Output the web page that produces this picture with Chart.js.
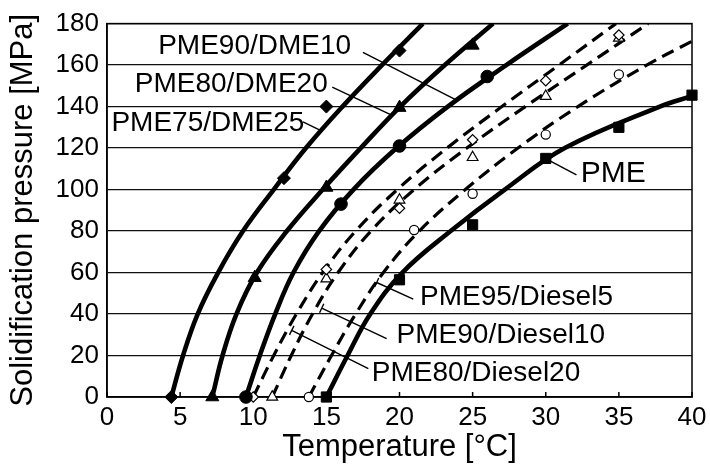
<!DOCTYPE html>
<html lang="en">
<head>
<meta charset="UTF-8">
<title>Solidification pressure of PME blends</title>
<script src="https://cdn.jsdelivr.net/npm/chart.js"></script>
<style>
  body { margin: 0; background: #fff; }
  #chart { display: block; }
</style>
</head>
<body>
<canvas id="chart" width="710" height="468"></canvas>
<script>
// pressure levels (MPa) the fitted curves are sampled at
const levels = [0, 20, 40, 60, 80, 100, 120, 140, 160, 180];

// fitted curves: temperature (degC) at each pressure level
const dme25Fit = [4.4, 5.2, 6.2, 7.6, 9.3, 11.4, 13.6, 16.1, 18.8, 21.6];
const dme20Fit = [7.2, 7.9, 8.85, 10.25, 12.3, 14.75, 17.35, 20.05, 23.1, 26.4];
const dme10Fit = [9.5, 10.45, 11.5, 12.75, 14.5, 16.85, 19.8, 23.3, 27.3, 31.5];
const diesel20Fit = [10.0, 11.4, 12.95, 14.75, 17.0, 19.85, 23.25, 27.0, 30.9, 34.8];
const diesel10Fit = [11.3, 12.6, 14.05, 15.8, 18.05, 21.0, 24.6, 28.6, 32.8, 37.0];
// these two run off the right edge before 180 MPa
const diesel5FitT = [13.8, 15.35, 17.0, 18.9, 21.35, 24.5, 28.1, 32.2, 36.9, 40];
const diesel5FitP = [0, 20, 40, 60, 80, 100, 120, 140, 160, 171.5];
const pmeFitT = [15.0, 16.45, 18.0, 20.2, 23.5, 27.2, 31.3, 37.8, 40];
const pmeFitP = [0, 20, 40, 60, 80, 100, 120, 140, 145];

// measured points
const pmeT = [15, 20, 25, 30, 35, 40];
const pmeP = [0, 56.5, 83, 115, 130, 145.5];
const dme25T = [4.4, 12.1, 15, 20];
const dme25P = [0, 105.5, 140, 167];
const dme20T = [7.2, 10.1, 15, 20, 25];
const dme20P = [0, 57.5, 101, 139.5, 169.5];
const dme10T = [9.5, 16, 20, 26];
const dme10P = [0, 93, 121, 154.5];
const diesel20T = [10, 15, 20, 25, 30, 35];
const diesel20P = [0, 61.5, 91, 124, 152.5, 174.5];
const diesel10T = [11.3, 15, 20, 25, 30, 35];
const diesel10P = [0, 57, 95, 115.5, 145, 173];
const diesel5T = [13.8, 21, 25, 30, 35];
const diesel5P = [0, 80.5, 98, 126.5, 155.5];

const FONT = "'Liberation Sans', Arial, sans-serif";
Chart.defaults.font.family = FONT;
Chart.defaults.color = '#000';

const pts = (xs, ys) => xs.map((x, i) => ({ x: x, y: ys[i] }));

function curve(xs, ys, dashed) {
  return {
    data: pts(xs, ys),
    borderColor: '#000',
    borderWidth: dashed ? 3.2 : 4.6,
    borderDash: dashed ? [13, 7] : [],
    pointRadius: 0,
    tension: 0.4,
    order: 2
  };
}

function markers(xs, ys, style, radius, open) {
  return {
    data: pts(xs, ys),
    showLine: false,
    pointStyle: style,
    pointRadius: radius,
    pointBackgroundColor: open ? '#fff' : '#000',
    pointBorderColor: '#000',
    pointBorderWidth: open ? 1.2 : 1,
    clip: false,
    order: 1
  };
}

const datasets = [
  curve(dme25Fit, levels, false),
  curve(dme20Fit, levels, false),
  curve(dme10Fit, levels, false),
  curve(pmeFitT, pmeFitP, false),
  curve(diesel20Fit, levels, true),
  curve(diesel10Fit, levels, true),
  curve(diesel5FitT, diesel5FitP, true),
  markers(dme25T, dme25P, 'rectRot', 6.5, false),
  markers(dme20T, dme20P, 'triangle', 7.5, false),
  markers(dme10T, dme10P, 'circle', 6.3, false),
  markers(pmeT, pmeP, 'rect', 7.2, false),
  markers(diesel20T, diesel20P, 'rectRot', 5.2, true),
  markers(diesel10T, diesel10P, 'triangle', 6.2, true),
  markers(diesel5T, diesel5P, 'circle', 4.6, true)
];

// curve labels: text anchor (left, middle) and leader line, in data units
const notes = [
  { text: 'PME90/DME10', at: [3.5, 169], line: [17.5, 166.1, 23.9, 143.1], size: 28 },
  { text: 'PME80/DME20', at: [1.9, 150.8], line: [15.4, 149.4, 19.5, 135.8], size: 28 },
  { text: 'PME75/DME25', at: [0.3, 132.1], line: [13.4, 132.6, 14.56, 128.6], size: 28 },
  { text: 'PME', at: [32.4, 107.7], line: [30.0, 114.9, 32.1, 107.1], size: 30 },
  { text: 'PME95/Diesel5', at: [21.4, 48.3], line: [18.44, 55.2, 20.94, 47.2], size: 28, tick: true },
  { text: 'PME90/Diesel10', at: [19.8, 29.7], line: [14.68, 42.8, 19.12, 28.1], size: 28, tick: true },
  { text: 'PME80/Diesel20', at: [18.1, 11.5], line: [12.63, 32.1, 17.87, 13.7], size: 28, tick: true }
];

const frameAndNotes = {
  id: 'frameAndNotes',
  beforeDatasetsDraw(chart) {
    const { ctx, chartArea: a, scales: { x } } = chart;
    ctx.save();
    ctx.strokeStyle = '#000';
    ctx.lineWidth = 1.5;
    ctx.strokeRect(a.left, a.top, a.right - a.left, a.bottom - a.top);
    // short inward ticks on the temperature axis
    ctx.beginPath();
    x.ticks.forEach(t => {
      const px = x.getPixelForValue(t.value);
      ctx.moveTo(px, a.bottom);
      ctx.lineTo(px, a.bottom - 5);
    });
    ctx.stroke();
    ctx.restore();
  },
  afterDatasetsDraw(chart) {
    const { ctx, scales: { x, y } } = chart;
    ctx.save();
    ctx.strokeStyle = '#000';
    ctx.fillStyle = '#000';
    ctx.lineWidth = 1.4;
    ctx.textAlign = 'left';
    ctx.textBaseline = 'middle';
    notes.forEach(n => {
      const x1 = x.getPixelForValue(n.line[0]), y1 = y.getPixelForValue(n.line[1]);
      const x2 = x.getPixelForValue(n.line[2]), y2 = y.getPixelForValue(n.line[3]);
      ctx.beginPath();
      ctx.moveTo(x1, y1);
      ctx.lineTo(x2, y2);
      if (n.tick) {
        const len = Math.hypot(x2 - x1, y2 - y1);
        const nx = -(y2 - y1) / len * 5, ny = (x2 - x1) / len * 5;
        ctx.moveTo(x1 - nx, y1 - ny);
        ctx.lineTo(x1 + nx, y1 + ny);
      }
      ctx.stroke();
      ctx.font = n.size + 'px ' + FONT;
      ctx.fillText(n.text, x.getPixelForValue(n.at[0]), y.getPixelForValue(n.at[1]));
    });
    ctx.restore();
  }
};

new Chart(document.getElementById('chart'), {
  type: 'line',
  data: { datasets: datasets },
  options: {
    responsive: false,
    animation: false,
    devicePixelRatio: 1,
    layout: { padding: { top: 21, right: 18, left: 0, bottom: 0 } },
    plugins: { legend: { display: false }, tooltip: { enabled: false } },
    scales: {
      x: {
        type: 'linear', min: 0, max: 40,
        ticks: { stepSize: 5, padding: 0, maxRotation: 0, font: { size: 26, lineHeight: 1 }, color: '#000' },
        grid: { display: false },
        border: { display: true, color: '#000', width: 1.5 },
        title: { display: true, text: 'Temperature [°C]', font: { size: 31 }, color: '#000', padding: { top: 0, bottom: 2 } },
        afterFit: s => { s.height = 71; }
      },
      y: {
        type: 'linear', min: 0, max: 180,
        ticks: { stepSize: 20, padding: 8, font: { size: 26 }, color: '#000' },
        grid: { color: '#111', lineWidth: 1.3, drawTicks: false },
        border: { display: true, color: '#000', width: 1.5 },
        title: { display: true, text: 'Solidification pressure [MPa]', font: { size: 31 }, color: '#000', padding: { top: 5, bottom: 0 } },
        afterFit: s => { s.width = 107; }
      }
    }
  },
  plugins: [frameAndNotes]
});
</script>
</body>
</html>
